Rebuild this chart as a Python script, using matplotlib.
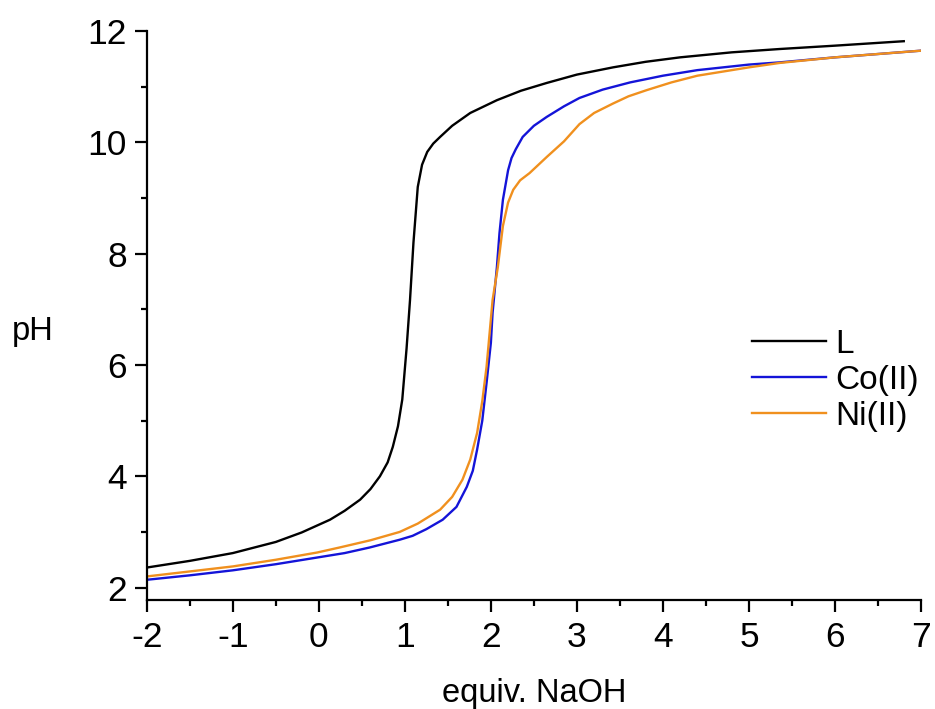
import matplotlib

matplotlib.use("Agg")
import matplotlib.pyplot as plt
from matplotlib.ticker import MultipleLocator

plt.rcParams["font.family"] = ["Liberation Sans", "DejaVu Sans"]
plt.rcParams["axes.unicode_minus"] = False

# titration curves
l_x = [-2, -1.5, -1, -0.5, -0.2, 0.13, 0.3, 0.48, 0.6, 0.71, 0.8, 0.86, 0.92, 0.97, 1.02, 1.06,
       1.1, 1.15, 1.2, 1.26, 1.33, 1.41, 1.55, 1.76, 2.07, 2.35, 2.65, 3.0, 3.42, 3.8, 4.2, 4.8,
       5.36, 6.0, 6.8]
l_ph = [2.36, 2.48, 2.62, 2.82, 2.99, 3.22, 3.38, 3.58, 3.77, 4.0, 4.25, 4.53, 4.9, 5.38, 6.3, 7.17,
        8.2, 9.2, 9.6, 9.83, 9.98, 10.1, 10.3, 10.53, 10.76, 10.93, 11.07, 11.22, 11.35, 11.45, 11.53,
        11.62, 11.68, 11.74, 11.82]

co_x = [-2, -1.5, -1, -0.5, -0.02, 0.3, 0.59, 0.94, 1.09, 1.25, 1.44, 1.6, 1.72, 1.79, 1.84, 1.9,
        1.95, 2.0, 2.02, 2.07, 2.1, 2.14, 2.2, 2.24, 2.29, 2.37, 2.5, 2.65, 2.85, 3.03, 3.3, 3.62,
        4.0, 4.4, 5.0, 5.36, 6.0, 7.0]
co_ph = [2.14, 2.22, 2.31, 2.42, 2.54, 2.62, 2.72, 2.86, 2.93, 3.05, 3.22, 3.45, 3.81, 4.1, 4.48, 5.0,
         5.68, 6.4, 6.94, 7.76, 8.37, 8.97, 9.5, 9.72, 9.88, 10.1, 10.3, 10.46, 10.65, 10.8, 10.95,
         11.08, 11.2, 11.3, 11.4, 11.44, 11.53, 11.65]

ni_x = [-2, -1.5, -1, -0.5, -0.02, 0.24, 0.6, 0.94, 1.15, 1.41, 1.55, 1.67, 1.76, 1.84, 1.9, 1.95,
        2.02, 2.08, 2.14, 2.2, 2.26, 2.34, 2.45, 2.65, 2.85, 3.03, 3.2, 3.42, 3.6, 3.81, 4.1, 4.4,
        5.0, 5.36, 6.0, 7.0]
ni_ph = [2.2, 2.29, 2.38, 2.5, 2.63, 2.72, 2.85, 3.0, 3.15, 3.4, 3.63, 3.94, 4.3, 4.78, 5.35, 5.97,
         7.17, 7.75, 8.5, 8.92, 9.15, 9.32, 9.45, 9.74, 10.02, 10.33, 10.53, 10.7, 10.83, 10.94, 11.08,
         11.2, 11.35, 11.43, 11.53, 11.65]

fig = plt.figure(figsize=(9.35, 7.09), dpi=100)
ax = fig.add_axes([0.157, 0.154, 0.828, 0.802])

ax.plot(l_x, l_ph, color="black", lw=1.7, label="L")
ax.plot(co_x, co_ph, color="#1414d8", lw=1.7, label="Co(II)")
ax.plot(ni_x, ni_ph, color="#f0901e", lw=1.7, label="Ni(II)")

ax.set_xlim(-2, 7)
ax.set_ylim(1.78, 12)
ax.xaxis.set_major_locator(MultipleLocator(1))
ax.xaxis.set_minor_locator(MultipleLocator(0.5))
ax.yaxis.set_major_locator(MultipleLocator(2))
ax.yaxis.set_minor_locator(MultipleLocator(1))

for side in ("top", "right"):
    ax.spines[side].set_visible(False)
for side in ("left", "bottom"):
    ax.spines[side].set_linewidth(1.6)

ax.tick_params(which="major", direction="out", length=8.5, width=1.6, labelsize=25.5)
ax.tick_params(axis="y", which="major", pad=6)
ax.tick_params(axis="x", which="major", pad=7)
ax.tick_params(which="minor", direction="out", length=4.5, width=1.6)

ax.set_xlabel("equiv. NaOH", fontsize=23.5, labelpad=17)
ax.set_ylabel("pH", fontsize=23.5, rotation=0, ha="center", va="center")
ax.yaxis.set_label_coords(-0.147, 0.471)

ax.legend(loc="upper left", bbox_to_anchor=(0.782, 0.476), frameon=False, fontsize=24,
          handlelength=2.2, handletextpad=0.3, labelspacing=0.15, borderpad=0, borderaxespad=0)

fig.savefig("out.png", dpi=100)
